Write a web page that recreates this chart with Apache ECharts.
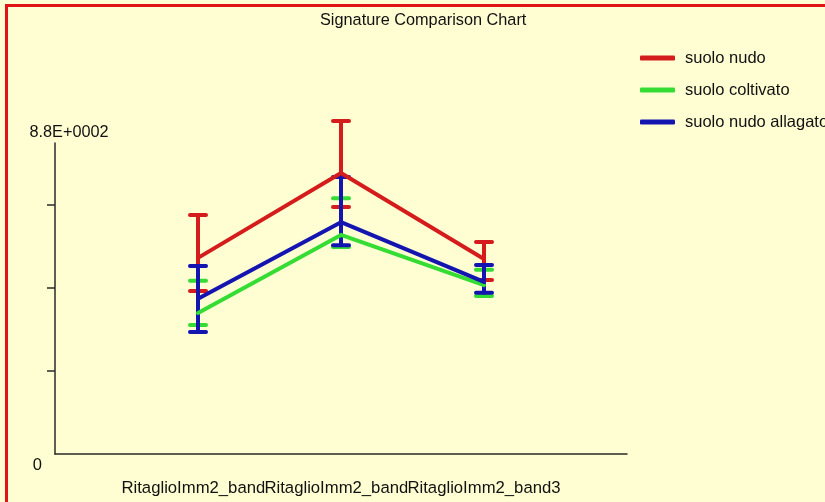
<!DOCTYPE html>
<html>
<head>
<meta charset="utf-8">
<title>Signature Comparison Chart</title>
<script src="https://cdn.jsdelivr.net/npm/echarts@6/dist/echarts.min.js"></script>
<style>
  html, body { margin: 0; padding: 0; background: #fbfbe8; }
  #chart { position: absolute; left: 0; top: 0; width: 825px; height: 502px; }
  #frame { position: absolute; left: 5px; top: 4px; width: 850px; height: 530px;
           border-left: 3px solid #e01414; border-top: 3px solid #e01414; pointer-events: none; }
</style>
</head>
<body>
<div id="chart"></div>
<div id="frame"></div>
<script>
// Band names (one per x position) and legend entries
const categories = ['RitaglioImm2_band1', 'RitaglioImm2_band2', 'RitaglioImm2_band3'];
const seriesNames = ['suolo nudo', 'suolo coltivato', 'suolo nudo allagato'];

// Mean signature per band, with the lower / upper ends of each error bar
const meanNudo = [555, 795, 552];
const lowerNudo = [461, 699, 492];
const upperNudo = [676, 942, 600];

const meanColtivato = [399, 620, 478];
const lowerColtivato = [365, 586, 447];
const upperColtivato = [490, 724, 521];

const meanAllagato = [439, 656, 487];
const lowerAllagato = [345, 591, 456];
const upperAllagato = [532, 784, 535];

// Y axis scale and tick marks
const yMax = 880;
const yTicks = [235, 470, 705];
const yTopLabel = '8.8E+0002';

const palette = ['#d41c1c', '#34dc34', '#1414b0'];
const bg = '#fffed2';
const font = 'Liberation Sans, Arial, sans-serif';

// The x axis keeps an empty slot at each end so the bands sit inside it
const axisSlots = [''].concat(categories, [' ']);

const groups = [
  [meanNudo, lowerNudo, upperNudo],
  [meanColtivato, lowerColtivato, upperColtivato],
  [meanAllagato, lowerAllagato, upperAllagato]
];

function errorBars(color) {
  return function (params, api) {
    const x = api.value(0);
    const lo = api.coord([x, api.value(1)]);
    const hi = api.coord([x, api.value(2)]);
    const half = 8;
    const style = { stroke: color, lineWidth: 4, lineCap: 'round' };
    return {
      type: 'group',
      children: [
        { type: 'line', shape: { x1: lo[0], y1: lo[1], x2: hi[0], y2: hi[1] }, style: style },
        { type: 'line', shape: { x1: hi[0] - half, y1: hi[1], x2: hi[0] + half, y2: hi[1] }, style: style },
        { type: 'line', shape: { x1: lo[0] - half, y1: lo[1], x2: lo[0] + half, y2: lo[1] }, style: style }
      ]
    };
  };
}

const series = [];
groups.forEach(function (g, i) {
  const mean = g[0], lower = g[1], upper = g[2];
  series.push({
    name: seriesNames[i],
    type: 'line',
    color: palette[i],
    symbol: 'none',
    lineStyle: { width: 4, color: palette[i], cap: 'round', join: 'round' },
    data: mean.map(function (v, k) { return [k + 1, v]; }),
    silent: true,
    animation: false
  });
  series.push({
    name: seriesNames[i],
    type: 'custom',
    color: palette[i],
    renderItem: errorBars(palette[i]),
    encode: { x: 0, y: [1, 2] },
    data: mean.map(function (v, k) { return [k + 1, lower[k], upper[k]]; }),
    clip: false,
    silent: true,
    animation: false
  });
});

const chart = echarts.init(document.getElementById('chart'), null, { renderer: 'canvas' });
chart.setOption({
  backgroundColor: bg,
  animation: false,
  textStyle: { fontFamily: font },
  title: {
    text: 'Signature Comparison Chart',
    left: 315,
    top: 8,
    textStyle: { fontFamily: font, fontSize: 16.3, fontWeight: 'normal', color: '#111' }
  },
  legend: {
    data: seriesNames,
    orient: 'vertical',
    left: 635,
    top: 44,
    icon: 'roundRect',
    itemWidth: 35,
    itemHeight: 5,
    itemGap: 14,
    selectedMode: false,
    textStyle: { fontFamily: font, fontSize: 16.5, color: '#111', lineHeight: 18, padding: [0, 0, 0, 5] }
  },
  grid: { left: 55, right: 198, top: 143, bottom: 48, containLabel: false, outerBoundsMode: 'none' },
  xAxis: {
    type: 'category',
    data: axisSlots,
    boundaryGap: false,
    splitLine: { show: false },
    axisTick: { show: false },
    axisLine: { show: true, lineStyle: { color: '#2a2a2a', width: 1.5 } },
    axisLabel: {
      interval: 0,
      margin: 26,
      fontFamily: font,
      fontSize: 16.7,
      color: '#111',
      backgroundColor: bg
    }
  },
  yAxis: {
    type: 'value',
    min: 0,
    max: yMax,
    splitLine: { show: false },
    name: yTopLabel,
    nameLocation: 'end',
    nameGap: 2,
    nameTextStyle: { fontFamily: font, fontSize: 16.3, color: '#111', padding: [0, 0, 0, 28] },
    axisLine: { show: true, lineStyle: { color: '#2a2a2a', width: 1.5 } },
    axisTick: { show: true, customValues: yTicks, length: 8, lineStyle: { color: '#2a2a2a', width: 1.5 } },
    axisLabel: {
      customValues: [0],
      formatter: function (v) { return String(v); },
      margin: 13,
      verticalAlign: 'top',
      padding: [3, 0, 0, 0],
      fontFamily: font,
      fontSize: 16.5,
      color: '#111',
      showMinLabel: true
    }
  },
  series: series
});
</script>
</body>
</html>
